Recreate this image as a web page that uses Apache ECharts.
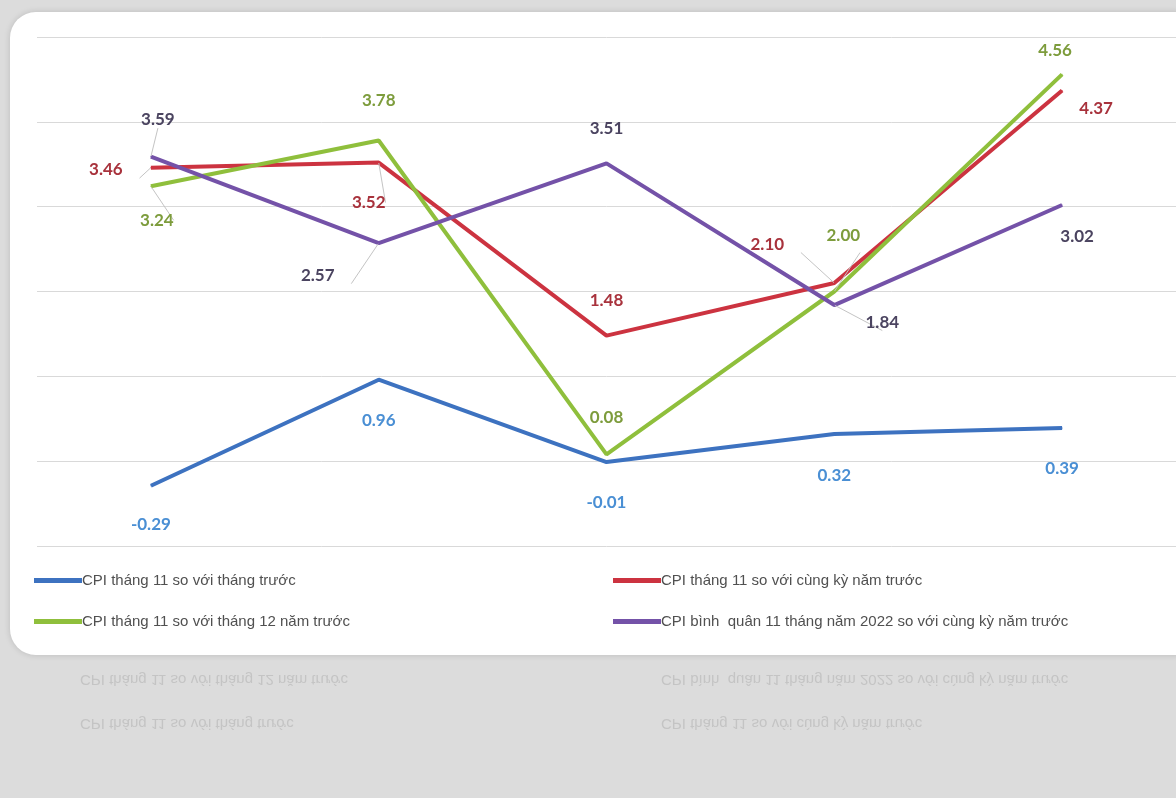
<!DOCTYPE html>
<html><head><meta charset="utf-8">
<script src="https://cdn.jsdelivr.net/npm/echarts@6/dist/echarts.min.js"></script>
<style>
html,body{margin:0;padding:0;background:#dcdcdc;}
#c{width:1176px;height:798px;}
</style></head>
<body><div id="c"></div>
<script>
// ---- data ----
const categories = ['1', '2', '3', '4', '5'];
const seriesNames = [
  'CPI tháng 11 so với tháng trước',
  'CPI tháng 11 so với cùng kỳ năm trước',
  'CPI tháng 11 so với tháng 12 năm trước',
  'CPI bình  quân 11 tháng năm 2022 so với cùng kỳ năm trước'
];
const cpiMoM   = [-0.29, 0.96, -0.01, 0.32, 0.39];
const cpiYoY   = [3.46, 3.52, 1.48, 2.10, 4.37];
const cpiYtd   = [3.24, 3.78, 0.08, 2.00, 4.56];
const cpiAvg   = [3.59, 2.57, 3.51, 1.84, 3.02];
const yTicks = { min: -1, max: 5, interval: 1 };

// ---- styles ----
const lineColors  = ['#3d72c0', '#cc3340', '#8fbf3c', '#7452a8'];
const labelColors = ['#4a8fd4', '#a8323c', '#7d9c3c', '#4b4460'];
// label offsets (label centre relative to point) and leader-line flags
const labelOffsets = [
  [[0,39],[0,41],[0,41],[0,41],[0,40]],
  [[-45,2],[-10,40],[0,-35],[-67,-39],[34,18]],
  [[6,34],[0,-40],[0,-37],[9,-56],[-7,-24]],
  [[7,-37],[-61,32],[0,-35],[48,17],[15,32]]
];
const leaders = [
  [0,0,0,0,0],
  [1,1,0,1,0],
  [1,0,0,1,0],
  [1,1,0,1,0]
];
const allValues = [cpiMoM, cpiYoY, cpiYtd, cpiAvg];

function buildData(si) {
  return allValues[si].map((v, i) => ({
    value: v,
    label: { offset: labelOffsets[si][i] },
    labelLine: { show: !!leaders[si][i] }
  }));
}

const chart = echarts.init(document.getElementById('c'));
const series = allValues.map((vals, si) => ({
  name: seriesNames[si],
  type: 'line',
  data: buildData(si),
  symbol: 'circle',
  symbolSize: 1,
  showSymbol: true,
  color: lineColors[si],
  itemStyle: { color: lineColors[si] },
  lineStyle: { color: lineColors[si], width: 4 },
  label: {
    show: true,
    position: 'inside',
    color: labelColors[si],
    fontFamily: 'Lato, "Open Sans", sans-serif',
    fontWeight: 'bold',
    fontSize: 17,
    formatter: p => p.value.toFixed(2)
  },
  labelLine: { show: false, lineStyle: { color: '#c4c4c4', width: 1 } },
  z: 3 + si,
  animation: false
}));

const legendText = { color: '#505050', fontSize: 15, fontFamily: '"Liberation Sans Narrow", "Liberation Sans", Arial, sans-serif' };
const reflFont = '15px "Liberation Sans", sans-serif';
const option = {
  animation: false,
  backgroundColor: 'transparent',
  graphic: [
    { type: 'rect', z: -10, shape: { x: 10, y: 12, width: 1190, height: 643, r: 26 },
      style: { fill: '#ffffff', shadowBlur: 6, shadowColor: 'rgba(0,0,0,0.15)' } },
    { type: 'text', z: -5, left: 80, top: 672, scaleY: -1,
      style: { text: seriesNames[2], fill: '#c4c4c4', font: reflFont } },
    { type: 'text', z: -5, left: 80, top: 716, scaleY: -1,
      style: { text: seriesNames[0], fill: '#c4c4c4', font: reflFont } },
    { type: 'text', z: -5, left: 661, top: 672, scaleY: -1,
      style: { text: seriesNames[3], fill: '#c4c4c4', font: reflFont } },
    { type: 'text', z: -5, left: 661, top: 716, scaleY: -1,
      style: { text: seriesNames[1], fill: '#c4c4c4', font: reflFont } }
  ],
  grid: { left: 37, top: 37, width: 1150, height: 509, containLabel: false },
  xAxis: {
    type: 'category', data: categories, boundaryGap: true,
    axisLine: { show: false }, axisTick: { show: false }, axisLabel: { show: false }
  },
  yAxis: {
    type: 'value', min: yTicks.min, max: yTicks.max, interval: yTicks.interval,
    axisLine: { show: false }, axisTick: { show: false }, axisLabel: { show: false },
    splitLine: { lineStyle: { color: '#d9d9d9', width: 1 } }
  },
  legend: [
    { orient: 'vertical', left: 29, top: 568, itemGap: 26, itemWidth: 48, itemHeight: 5, icon: 'rect',
      data: [seriesNames[0], seriesNames[2]], textStyle: Object.assign({ padding: [0, 0, 0, -5] }, legendText) },
    { orient: 'vertical', left: 608, top: 568, itemGap: 26, itemWidth: 48, itemHeight: 5, icon: 'rect',
      data: [seriesNames[1], seriesNames[3]], textStyle: Object.assign({ padding: [0, 0, 0, -5] }, legendText) }
  ],
  series: series
};
chart.setOption(option);
</script>
</body></html>
